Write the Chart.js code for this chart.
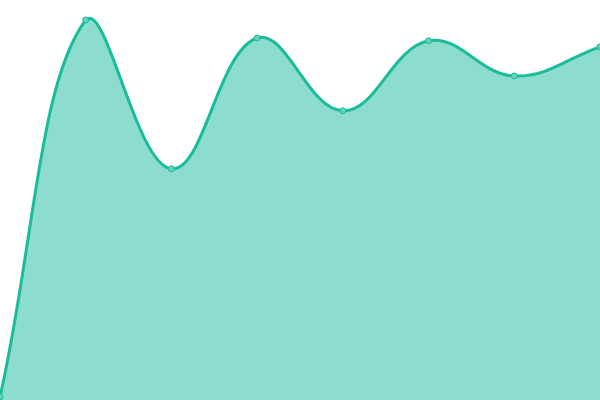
<!DOCTYPE html>
<html>
<head>
<meta charset="utf-8">
<script src="https://cdn.jsdelivr.net/npm/chart.js@4"></script>
<style>
  html, body { margin: 0; padding: 0; background: #fff; }
  #wrap { width: 600px; height: 400px; }
</style>
</head>
<body>
<div id="wrap"><canvas id="areaChart"></canvas></div>
<script>
// Data
const labels = ['1', '2', '3', '4', '5', '6', '7', '8'];
const values = [0.8, 95, 57.8, 90.5, 72.3, 89.8, 81, 88.3];

const ctx = document.getElementById('areaChart').getContext('2d');

new Chart(ctx, {
    type: 'line',
    data: {
        labels: labels,
        datasets: [{
            data: values,
            fill: 'origin',
            backgroundColor: 'rgba(26, 188, 156, 0.5)',
            borderColor: '#1abc9c',
            borderWidth: 3,
            tension: 0.4,
            pointRadius: 3,
            pointBorderWidth: 1,
            pointBackgroundColor: '#5fd3bb',
            pointBorderColor: '#1abc9c'
        }]
    },
    options: {
        responsive: true,
        maintainAspectRatio: false,
        animation: false,
        layout: { padding: 0, autoPadding: false },
        plugins: {
            legend: { display: false },
            tooltip: { enabled: false }
        },
        scales: {
            x: { display: false },
            y: { display: false, min: 0, max: 100 }
        }
    }
});
</script>
</body>
</html>
